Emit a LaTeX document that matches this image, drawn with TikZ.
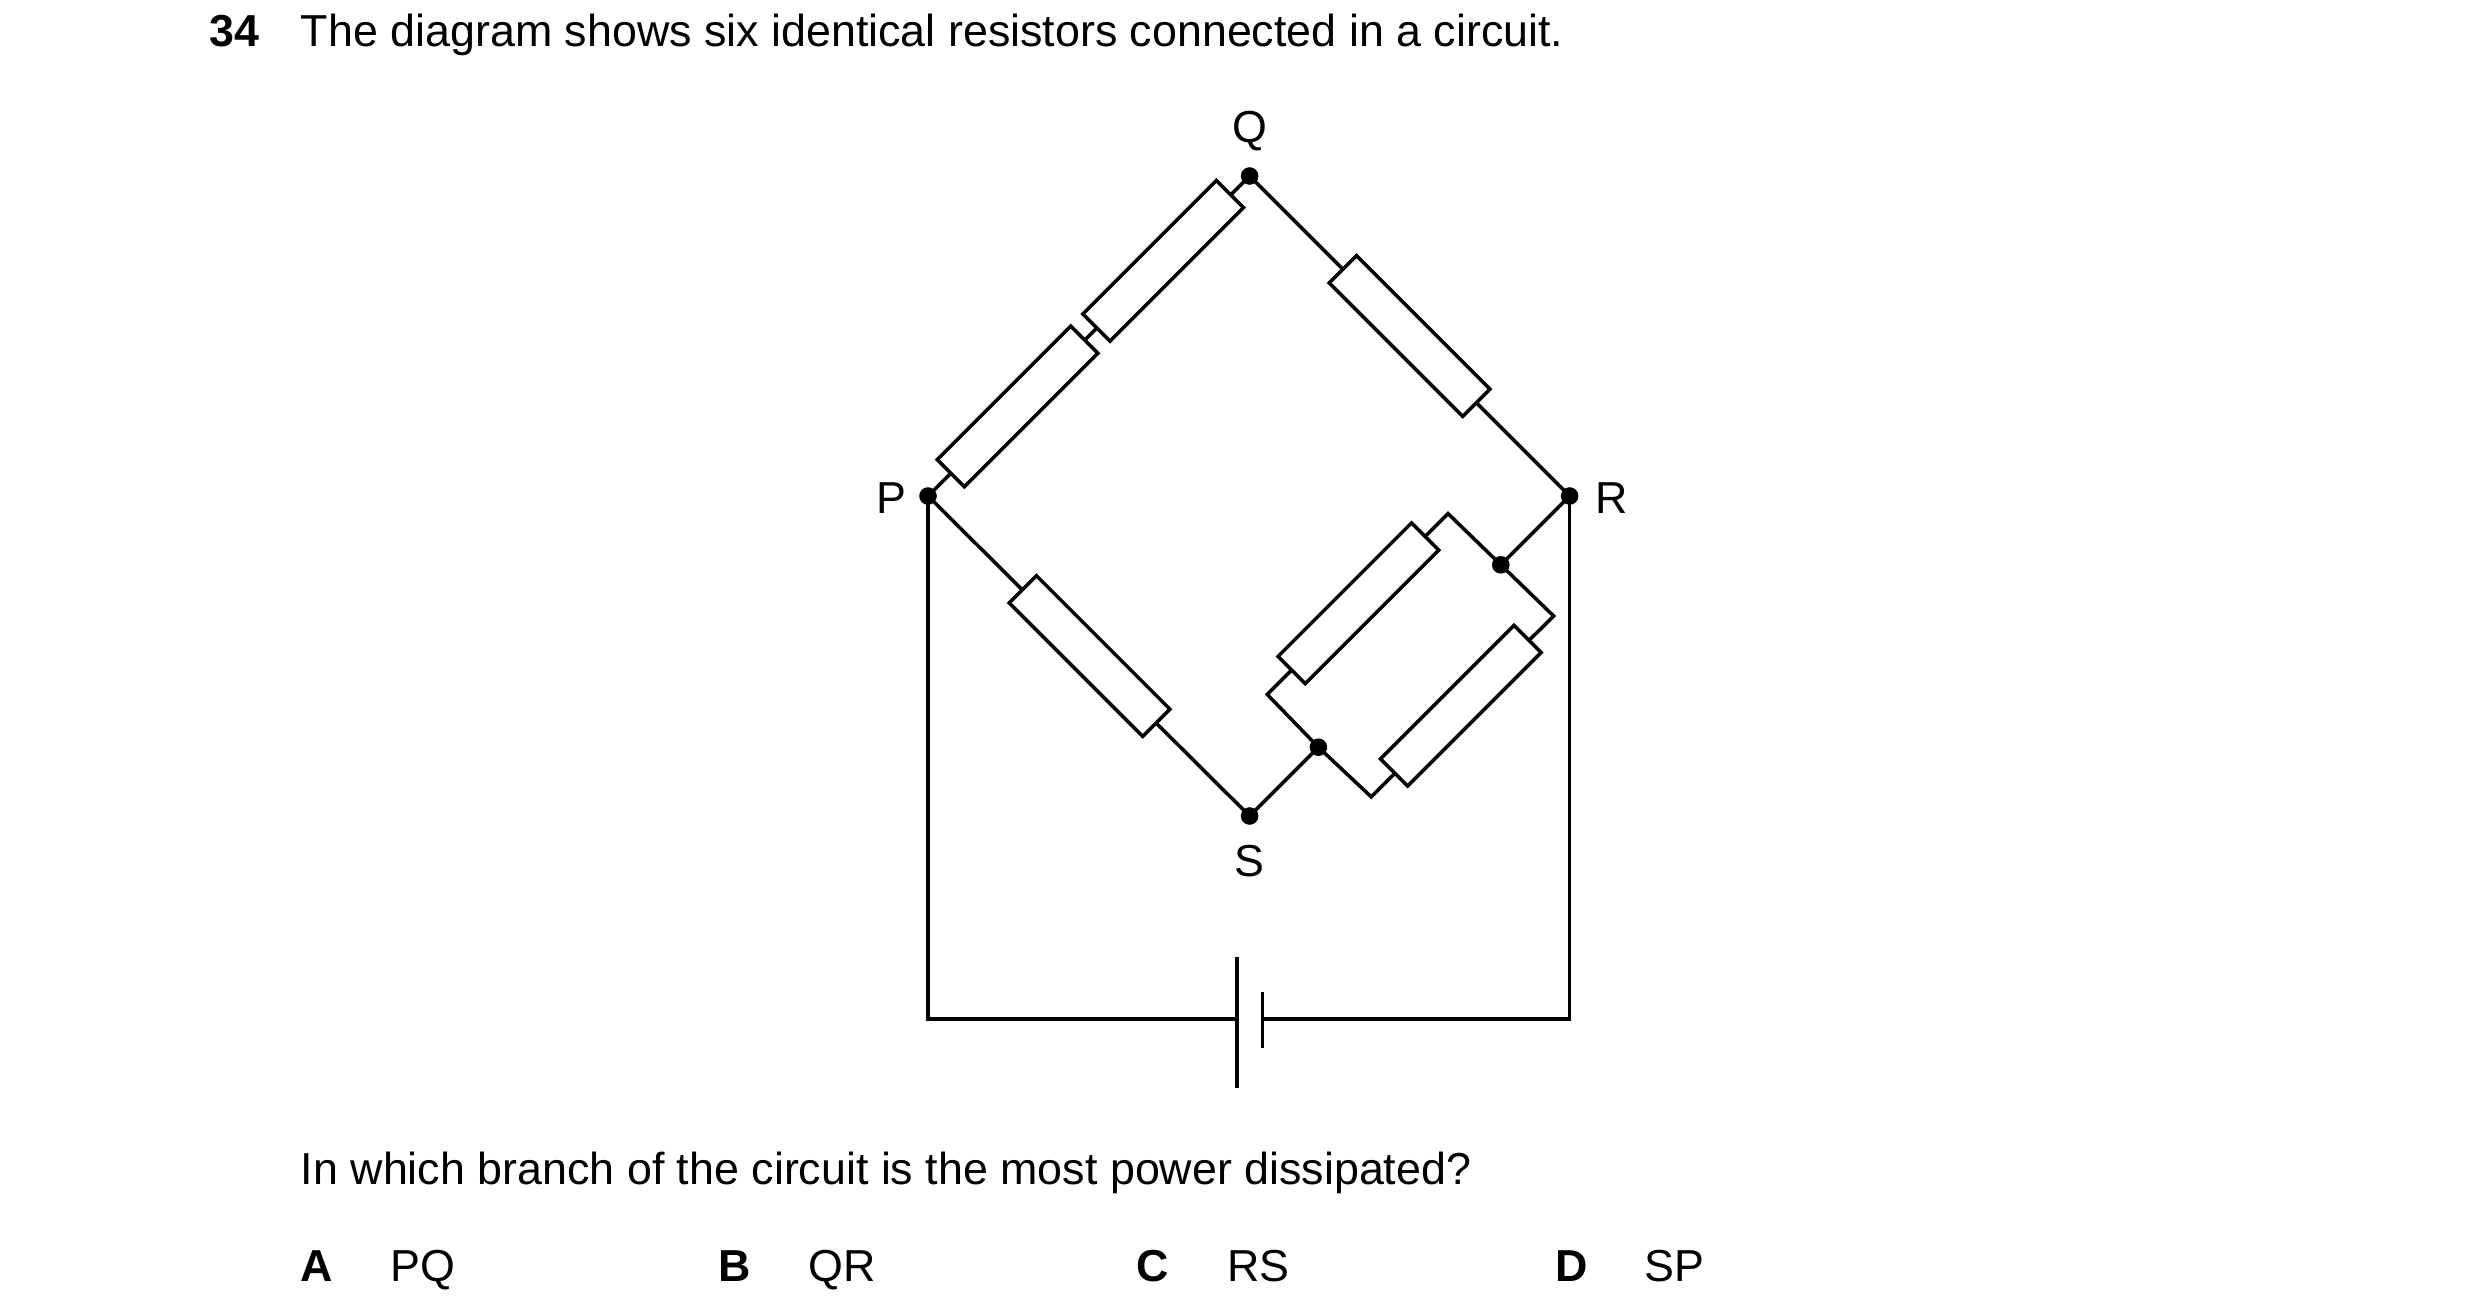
\documentclass[tikz,border=0pt]{standalone}
\usepackage{fontspec}
\setmainfont{Liberation Sans}
\begin{document}
\begin{tikzpicture}[x=0.5pt,y=-0.5pt,line width=1.1pt,
  res/.style={draw,fill=white,minimum width=59pt,minimum height=12pt,inner sep=0pt},
  dot/.style={circle,fill=black,inner sep=0pt,minimum size=5.5pt},
  txt/.style={inner sep=0pt,anchor=base west,font=\fontsize{14}{16}\selectfont}]
\useasboundingbox (0,0) rectangle (1550,820);
\coordinate (Q) at (781,110); \coordinate (P) at (580,310);
\coordinate (R) at (981,310); \coordinate (S) at (781,510);
\coordinate (N1) at (938,353); \coordinate (N2) at (824,467);
\coordinate (C1) at (905,321); \coordinate (C2) at (792,434);
\coordinate (C3) at (971,385); \coordinate (C4) at (857,498);
\coordinate (PB) at (580,637); \coordinate (RB) at (981,637);
\coordinate (BL) at (773,637); \coordinate (BR) at (789,637);
\coordinate (BLt) at (773,598); \coordinate (BLb) at (773,680);
\coordinate (BRt) at (789,620); \coordinate (BRb) at (789,655);
\draw (S)--(P)--(Q)--(R)--(N1);
\draw (N2)--(S);
\draw (N1)--(C1)--(C2)--(N2)--(C4)--(C3)--cycle;
\draw (P)--(PB)--(BL); \draw (BR)--(RB)--(R);
\draw (BLt)--(BLb); \draw (BRt)--(BRb);
\node[res,rotate=45] (r1) at (636,254) {};
\node[res,rotate=45] (r2) at (727,163) {};
\node[res,rotate=-45] (r3) at (881,210) {};
\node[res,rotate=-45] (r4) at (681,410) {};
\node[res,rotate=45] (r5) at (849,377) {};
\node[res,rotate=45] (r6) at (913,441) {};
\foreach \n in {Q,P,R,S,N1,N2} \node[dot] at (\n) {};
\node[font=\fontsize{14}{16}\selectfont] (lq) at (781,82) {Q};
\node[font=\fontsize{14}{16}\selectfont] (lp) at (557,311) {P};
\node[font=\fontsize{14}{16}\selectfont] (lr) at (1007,311) {R};
\node[font=\fontsize{14}{16}\selectfont] (ls) at (781,538) {S};
\node[txt] (n34) at (130,29) {\bfseries 34};
\node[txt] (t1) at (187,29) {The diagram shows six identical resistors connected in a circuit.};
\node[txt] (t2) at (187,740) {In which branch of the circuit is the most power dissipated?};
\node[txt] (a1) at (187,801) {\bfseries A}; \node[txt] (a2) at (243,801) {PQ};
\node[txt] (b1) at (448,801) {\bfseries B}; \node[txt] (b2) at (504,801) {QR};
\node[txt] (c1) at (709,801) {\bfseries C}; \node[txt] (c2) at (766,801) {RS};
\node[txt] (d1) at (971,801) {\bfseries D}; \node[txt] (d2) at (1027,801) {SP};
\end{tikzpicture}
\end{document}
